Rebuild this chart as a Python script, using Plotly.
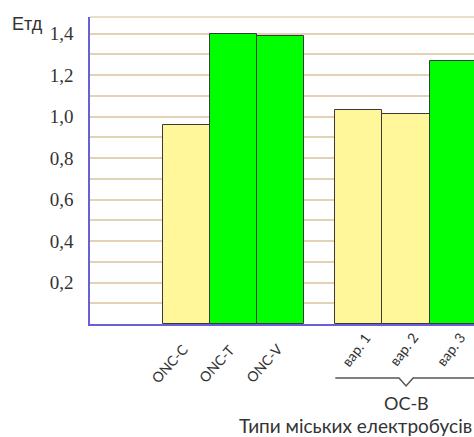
import plotly.graph_objects as go

# ---- data ----
categories = ["ONC-C", "ONC-T", "ONC-V", "вар. 1", "вар. 2", "вар. 3"]
groups = ["ONC", "ONC", "ONC", "OC-B", "OC-B", "OC-B"]
values = [0.96, 1.40, 1.39, 1.03, 1.01, 1.27]
bar_types = ["yellow", "green", "green", "yellow", "yellow", "green"]
y_tick_values = [0.2, 0.4, 0.6, 0.8, 1.0, 1.2, 1.4]
y_tick_labels = ["0,2", "0,4", "0,6", "0,8", "1,0", "1,2", "1,4"]
y_label = "Eтд"
x_title = "Типи міських електробусів"
group_label = "OC-B"

# ---- layout helpers ----
first_center = 2.04
group_gap = 0.66
xpos = []
for i, g in enumerate(groups):
    xpos.append(first_center + i + (group_gap if g == "OC-B" else 0))

color_map = {"yellow": "#fff79a", "green": "#00ff00"}
colors = [color_map[t] for t in bar_types]

fig = go.Figure()
fig.add_trace(go.Bar(
    x=xpos, y=values, width=1.0,
    marker=dict(color=colors, line=dict(color="#3a3a3a", width=1)),
    hoverinfo="skip",
))

grid_color = "#e2d3b4"
axis_color = "#6b5fd6"

minor_vals = [round(0.1 * k, 1) for k in range(1, 15)]
minor_text = []
for v in minor_vals:
    if v in y_tick_values:
        minor_text.append(y_tick_labels[y_tick_values.index(v)])
    else:
        minor_text.append("")

fig.update_layout(
    width=474, height=437,
    margin=dict(l=90, r=0, t=17, b=113),
    paper_bgcolor="white", plot_bgcolor="white",
    font=dict(family="Liberation Serif", size=19, color="#333333"),
    showlegend=False,
    bargap=0,
    xaxis=dict(range=[0, 8.14], showgrid=False, zeroline=False,
               showticklabels=False, ticks="",
               showline=True, linecolor=axis_color, linewidth=1.5),
    yaxis=dict(range=[0, 1.48], tickmode="array", tickvals=minor_vals, ticktext=minor_text,
               showgrid=True, gridcolor=grid_color, gridwidth=1.5,
               zeroline=False, showline=True, linecolor=axis_color, linewidth=1.5,
               ticks="", ticklabelstandoff=11,
               tickfont=dict(family="Liberation Serif", size=19, color="#333333")),
)

# top border line
fig.add_shape(type="line", xref="paper", yref="paper", x0=0, x1=1, y0=1, y1=1,
              line=dict(color=grid_color, width=1.5), layer="below")

# rotated category labels
for i, (c, g) in enumerate(zip(categories, groups)):
    if g == "ONC":
        xs, ys, ang = -17, -39, -48
    else:
        xs, ys, ang = -3, -25, -53
    fig.add_annotation(x=xpos[i], y=0, xref="x", yref="paper", text=c,
                       showarrow=False, textangle=ang, xshift=xs, yshift=ys,
                       xanchor="center", yanchor="middle",
                       font=dict(family="Lato", size=14, color="#333333"))

# brace under OC-B group
b_idx = [i for i, g in enumerate(groups) if g == "OC-B"]
bx0 = xpos[b_idx[0]] - 0.5
bmid = sum(xpos[i] for i in b_idx) / len(b_idx)
bx1 = xpos[b_idx[-1]] + 1.5
y_line = -54 / 307.3
y_notch = -62 / 307.3
dv = 0.15
fig.add_shape(type="path", xref="x", yref="paper",
              path=f"M {bx0},{y_line} L {bmid-dv},{y_line} L {bmid},{y_notch} L {bmid+dv},{y_line} L {bx1},{y_line}",
              line=dict(color="#555555", width=1.5))
fig.add_annotation(x=bmid, y=0, xref="x", yref="paper", text=group_label,
                   showarrow=False, yanchor="middle", xanchor="center", yshift=-79,
                   font=dict(family="Lato", size=18, color="#333333"))

fig.add_annotation(x=1.0, y=0, xref="paper", yref="paper", text=x_title,
                   showarrow=False, xanchor="right", yanchor="middle", yshift=-101,
                   font=dict(family="Lato", size=19, color="#333333"))

fig.add_annotation(x=12 / 474 - 90 / 384, y=1, xref="paper", yref="paper", text=y_label,
                   showarrow=False, xanchor="left", yanchor="middle", yshift=-7,
                   font=dict(family="Liberation Sans", size=18, color="#333333"))

fig.write_html("out.html", config={"displayModeBar": False},
               post_script="document.body.style.margin='0';document.body.style.overflow='hidden';")
